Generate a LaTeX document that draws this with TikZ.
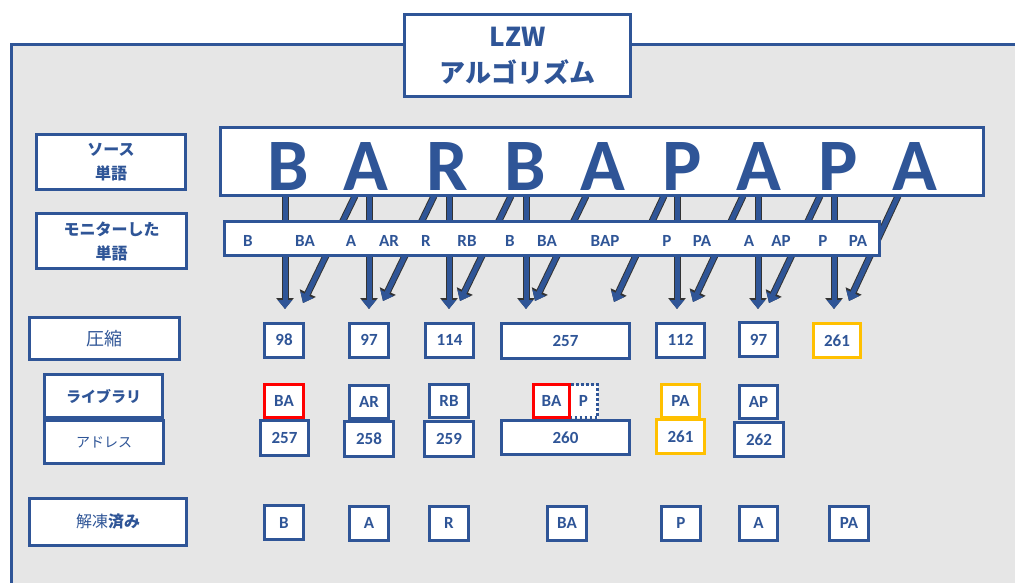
\documentclass[tikz,border=0pt]{standalone}
\usepackage{fontspec}
\usepackage{graphicx}
\setmainfont{Carlito}
\newfontfamily\jp{Noto Sans CJK JP}
\usetikzlibrary{arrows.meta}
\definecolor{myblue}{HTML}{2F5597}
\definecolor{panelgrey}{HTML}{E6E6E6}
\definecolor{myred}{HTML}{FF0000}
\definecolor{myyellow}{HTML}{FFC000}
\begin{document}
\begin{tikzpicture}[x=1pt,y=-1pt,
 lbl/.style={draw=myblue, line width=3.5pt, fill=white, text=myblue, inner sep=0pt, align=center},
 cell/.style={draw=myblue, line width=3pt, fill=white, text=myblue, inner sep=0pt, font=\fontsize{17}{20}\selectfont\bfseries},
 redcell/.style={cell, draw=myred},
 yelcell/.style={cell, draw=myyellow},
 word/.style={text=myblue, font=\fontsize{17}{20}\selectfont\bfseries, anchor=base, inner sep=0pt},
 big/.style={text=myblue, font=\fontsize{74}{80}\selectfont\bfseries, anchor=base, inner sep=0pt},
 flow/.style={line width=5pt, draw=myblue, -{Triangle[width=14pt,length=9pt]},
   preaction={draw=black!80, line width=7pt, -{Triangle[width=17pt,length=11pt]}}},
]
\useasboundingbox (0,0) rectangle (1015,582);
\begin{scope}
\clip (0,0) rectangle (1015,582);
\fill[panelgrey] (11,44) rectangle (1030,600);
\draw[myblue, line width=3pt] (1030,44) -- (11,44) -- (11,600);
\end{scope}

% title
\node[lbl, line width=3.5pt, minimum width=226pt, minimum height=82pt, font=\jp\bfseries\fontsize{26}{36}\selectfont] (title) at (517.5,55.5)
  {LZW\\アルゴリズム};

% arrow coordinates
\foreach \n/\x/\e in {1/285/309, 2/369/309, 3/449/309, 4/526/309, 5/677/309, 6/758/309, 7/834/309}{
  \coordinate (v\n s) at (\x,196);
  \coordinate (v\n e) at (\x,\e);
}
\foreach \n/\sx/\ex/\ey in {1/355/303/303, 2/434/383/301, 3/511/460/301, 4/586/535/301, 5/664/614/302, 6/743/693/302, 7/820/769/303, 8/898/849/301}{
  \coordinate (d\n s) at (\sx,196);
  \coordinate (d\n e) at (\ex,\ey);
}
\foreach \n in {1,...,7}{ \draw[flow] (v\n s) -- (v\n e); }
\foreach \n in {1,...,8}{ \draw[flow] (d\n s) -- (d\n e); }

% source word
\node[draw=myblue, line width=3pt, fill=white, minimum width=763pt, minimum height=68pt, inner sep=0pt] (src) at (602,161.5) {};
\foreach \n/\x/\t in {1/288/B, 2/366/A, 3/447/R, 4/525/B, 5/603/A, 6/682/P, 7/759/A, 8/838/P, 9/915/A}{
  \node[big] (s\n) at (\x,190) {\t};
}

% monitored words
\node[draw=myblue, line width=3pt, fill=white, minimum width=655pt, minimum height=34pt, inner sep=0pt] (mon) at (552,238.5) {};
\foreach \n/\x/\t in {1/248/B, 2/305/BA, 3/351/A, 4/389/AR, 5/426/R, 6/467/RB, 7/510/B, 8/547/BA, 9/605/BAP, 10/667/P, 11/702/PA, 12/749/A, 13/781/AP, 14/823/P, 15/858/PA}{
  \node[word] (m\n) at (\x,246) {\t};
}

% left labels
\node[lbl, minimum width=149pt, minimum height=55pt, font=\jp\bfseries\fontsize{16}{24}\selectfont] (lsrc) at (111,162) {ソース\\単語};
\node[lbl, minimum width=150pt, minimum height=55pt, font=\jp\bfseries\fontsize{16}{24}\selectfont] (lmon) at (111.5,241) {モニターした\\単語};
\node[lbl, minimum width=150pt, minimum height=42pt, font=\jp\fontsize{18}{22}\selectfont] (lcmp) at (104.5,338.5) {圧縮};
\node[lbl, minimum width=118pt, minimum height=43pt, font=\jp\bfseries\fontsize{15}{18}\selectfont] (llib) at (103.5,396) {ライブラリ};
\node[lbl, minimum width=119pt, minimum height=43pt, font=\jp\fontsize{14}{17}\selectfont] (ladr) at (104,442) {アドレス};
\node[lbl, minimum width=157pt, minimum height=47pt, font=\jp\fontsize{16}{19}\selectfont] (ldec) at (108,522) {解凍{\bfseries 済み}};

% compressed row
\node[cell, minimum width=39pt, minimum height=34pt] (c1) at (284,340) {98};
\node[cell, minimum width=39pt, minimum height=34pt] (c2) at (369,340) {97};
\node[cell, minimum width=48pt, minimum height=34pt] (c3) at (449.5,340) {114};
\node[cell, minimum width=128pt, minimum height=35pt] (c4) at (565.5,341) {257};
\node[cell, minimum width=48pt, minimum height=34pt] (c5) at (680.5,340) {112};
\node[cell, minimum width=38pt, minimum height=34pt] (c6) at (758.5,339.5) {97};
\node[yelcell, minimum width=47pt, minimum height=34pt] (c7) at (837,340.5) {261};

% library row
\node[redcell, minimum width=39pt, minimum height=33pt] (b1) at (284,401) {BA};
\node[cell, minimum width=39pt, minimum height=33pt] (b2) at (369,401.5) {AR};
\node[cell, minimum width=39pt, minimum height=33pt] (b3) at (449,401) {RB};
\node[cell, draw=myblue, dash pattern=on 2.5pt off 2.5pt, minimum width=28pt, minimum height=33pt] (b4p) at (583.5,401) {P};
\node[redcell, minimum width=36pt, minimum height=33pt] (b4) at (551.5,401) {BA};
\node[yelcell, minimum width=38pt, minimum height=33pt] (b5) at (680.5,400.5) {PA};
\node[cell, minimum width=38pt, minimum height=33pt] (b6) at (758.5,402) {AP};

% address row
\node[cell, minimum width=48pt, minimum height=35pt] (a1) at (284.5,438) {257};
\node[cell, minimum width=49pt, minimum height=35pt] (a2) at (369,439) {258};
\node[cell, minimum width=49pt, minimum height=35pt] (a3) at (449,439) {259};
\node[cell, minimum width=128pt, minimum height=34pt] (a4) at (565.5,437.5) {260};
\node[yelcell, minimum width=48pt, minimum height=34pt] (a5) at (680.5,436.5) {261};
\node[cell, minimum width=49pt, minimum height=34pt] (a6) at (759,439.5) {262};

% decompressed row
\node[cell, minimum width=39pt, minimum height=34pt] (e1) at (284,522.5) {B};
\node[cell, minimum width=39pt, minimum height=34pt] (e2) at (369,523) {A};
\node[cell, minimum width=39pt, minimum height=34pt] (e3) at (449,523) {R};
\node[cell, minimum width=39pt, minimum height=34pt] (e4) at (567,523) {BA};
\node[cell, minimum width=39pt, minimum height=34pt] (e5) at (681,523) {P};
\node[cell, minimum width=38pt, minimum height=34pt] (e6) at (758.5,523) {A};
\node[cell, minimum width=39pt, minimum height=34pt] (e7) at (849,523) {PA};
\end{tikzpicture}
\end{document}
